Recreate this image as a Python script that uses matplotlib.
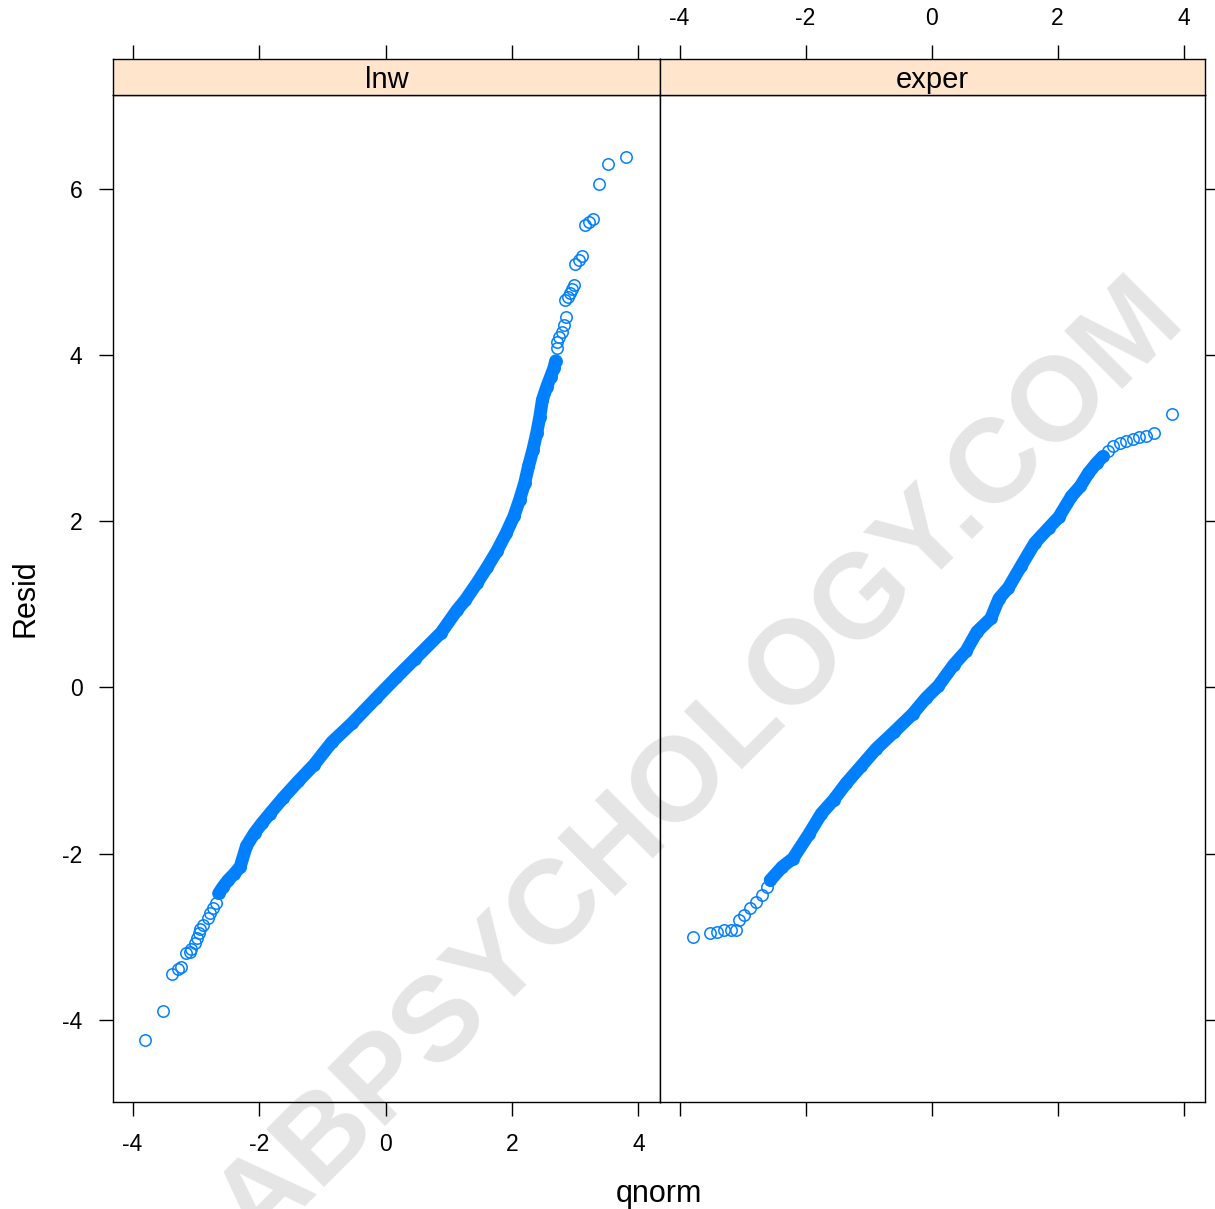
import matplotlib.pyplot as plt
import numpy as np

plt.rcParams['font.family'] = ['Liberation Sans', 'DejaVu Sans']
plt.rcParams['axes.unicode_minus'] = False

# panel names
panels = ["lnw", "exper"]

# lnw panel: sorted residuals vs normal quantiles
lnw_tail_lo_q = [-3.80, -3.52, -3.37, -3.28, -3.23, -3.16, -3.10, -3.07, -3.02, -2.98,
                 -2.95, -2.94, -2.89, -2.81, -2.78, -2.73, -2.68]
lnw_tail_lo_r = [-4.24, -3.89, -3.45, -3.39, -3.36, -3.20, -3.19, -3.15, -3.08, -3.02,
                 -2.96, -2.91, -2.86, -2.78, -2.72, -2.66, -2.60]
lnw_band_q = [-2.64, -2.57, -2.49, -2.40, -2.30, -2.20, -2.07, -1.95, -1.83, -1.62,
              -1.38, -1.13, -0.85, -0.53, -0.15, 0.17, 0.46, 0.88, 1.13, 1.26,
              1.45, 1.61, 1.76, 1.91, 2.03, 2.12, 2.20, 2.26, 2.33, 2.39,
              2.44, 2.48, 2.55, 2.61, 2.66, 2.69]
lnw_band_r = [-2.48, -2.40, -2.32, -2.25, -2.16, -1.91, -1.75, -1.63, -1.52, -1.33,
              -1.13, -0.93, -0.66, -0.43, -0.13, 0.12, 0.34, 0.66, 0.93, 1.05,
              1.26, 1.45, 1.64, 1.86, 2.06, 2.26, 2.46, 2.66, 2.86, 3.06,
              3.26, 3.46, 3.62, 3.74, 3.84, 3.93]
lnw_tail_hi_q = [2.71, 2.71, 2.75, 2.79, 2.82, 2.86, 2.84, 2.88, 2.91, 2.95,
                 2.98, 3.00, 3.06, 3.10, 3.15, 3.21, 3.28, 3.38, 3.51, 3.80]
lnw_tail_hi_r = [4.08, 4.16, 4.22, 4.28, 4.36, 4.46, 4.66, 4.70, 4.75, 4.79,
                 4.84, 5.10, 5.15, 5.19, 5.56, 5.60, 5.64, 6.06, 6.30, 6.38]

# exper panel
exper_tail_lo_q = [-3.78, -3.51, -3.40, -3.30, -3.19, -3.11, -3.06, -2.98, -2.88, -2.78,
                   -2.69, -2.61]
exper_tail_lo_r = [-3.00, -2.96, -2.94, -2.92, -2.92, -2.92, -2.80, -2.74, -2.66, -2.58,
                   -2.50, -2.40]
exper_band_q = [-2.56, -2.37, -2.20, -1.95, -1.75, -1.55, -1.35, -1.12, -0.88, -0.60,
                -0.30, -0.09, 0.11, 0.35, 0.55, 0.72, 0.94, 1.07, 1.22, 1.42,
                1.64, 1.86, 2.02, 2.22, 2.36, 2.49, 2.62, 2.72]
exper_band_r = [-2.32, -2.16, -2.06, -1.77, -1.52, -1.35, -1.15, -0.95, -0.74, -0.54,
                -0.32, -0.13, 0.02, 0.27, 0.44, 0.67, 0.83, 1.07, 1.20, 1.46,
                1.74, 1.92, 2.05, 2.30, 2.42, 2.58, 2.70, 2.78]
exper_tail_hi_q = [2.80, 2.88, 2.99, 3.09, 3.20, 3.30, 3.41, 3.53, 3.82]
exper_tail_hi_r = [2.85, 2.90, 2.94, 2.96, 2.99, 3.01, 3.03, 3.06, 3.29]

x_ticks = [-4, -2, 0, 2, 4]
y_ticks = [-4, -2, 0, 2, 4, 6]

BLUE = "#0080ff"
STRIP = "#ffe5cc"
W, H = 1215, 1209

fig = plt.figure(figsize=(W / 100, H / 100), dpi=100)
fig.patch.set_facecolor("white")

data = {
    "lnw": (lnw_tail_lo_q, lnw_tail_lo_r, lnw_band_q, lnw_band_r, lnw_tail_hi_q, lnw_tail_hi_r),
    "exper": (exper_tail_lo_q, exper_tail_lo_r, exper_band_q, exper_band_r,
              exper_tail_hi_q, exper_tail_hi_r),
}

lefts = [113, 660]
widths = [547, 545]
xlim = (-4.31, 4.34)
ylim = (-4.99, 7.13)

for i, name in enumerate(panels):
    lo_q, lo_r, bq, br, hi_q, hi_r = data[name]
    left = lefts[i]
    w = widths[i]
    ax = fig.add_axes([left / W, 1 - 1102 / H, w / W, 1007 / H])
    # dense middle of the sample: overlapping circles read as a solid band
    ax.plot(bq, br, color=BLUE, lw=9.3, solid_capstyle="round", solid_joinstyle="round", zorder=2)
    all_q = np.concatenate([lo_q, bq, hi_q])
    all_r = np.concatenate([lo_r, br, hi_r])
    ax.plot(all_q, all_r, ls="none", marker="o", mfc="none", mec=BLUE, ms=8.2, mew=1.1, zorder=3)
    ax.set_xlim(xlim)
    ax.set_ylim(ylim)
    for sp in ax.spines.values():
        sp.set_linewidth(1.0)
    ax.set_xticks(x_ticks)
    ax.set_yticks(y_ticks)
    ax.tick_params(direction="out", length=10, width=1.0, labelsize=16.5, pad=12)
    if i == 0:
        ax.tick_params(left=True, labelleft=True, right=False, bottom=True, labelbottom=True)
    else:
        ax.tick_params(left=False, labelleft=False, right=True, labelright=False,
                       bottom=True, labelbottom=False)

    # strip on top of each panel
    st = fig.add_axes([left / W, 1 - 95 / H, w / W, 36 / H])
    st.set_facecolor(STRIP)
    st.set_xlim(xlim)
    st.set_yticks([])
    st.set_xticks(x_ticks)
    st.xaxis.tick_top()
    st.tick_params(direction="out", length=10, width=1.0, labelsize=16.5, pad=11,
                   labeltop=(i == 1), labelbottom=False, bottom=False)
    for sp in st.spines.values():
        sp.set_linewidth(1.0)
    st.text(0.5, 0.42, name, transform=st.transAxes, ha="center", va="center", fontsize=21)

fig.text(25 / W, 1 - 598 / H, "Resid", rotation=90, ha="center", va="center", fontsize=22)
fig.text(659 / W, 1 - 1194 / H, "qnorm", ha="center", va="center", fontsize=22)

# watermark
fig.text(700 / W, 1 - 765 / H, "ABPSYCHOLOGY.COM", rotation=45, ha="center", va="center",
         rotation_mode="anchor", fontsize=86, fontweight="bold", color=(0, 0, 0, 0.105),
         zorder=10)

fig.savefig("out.png", dpi=100)
